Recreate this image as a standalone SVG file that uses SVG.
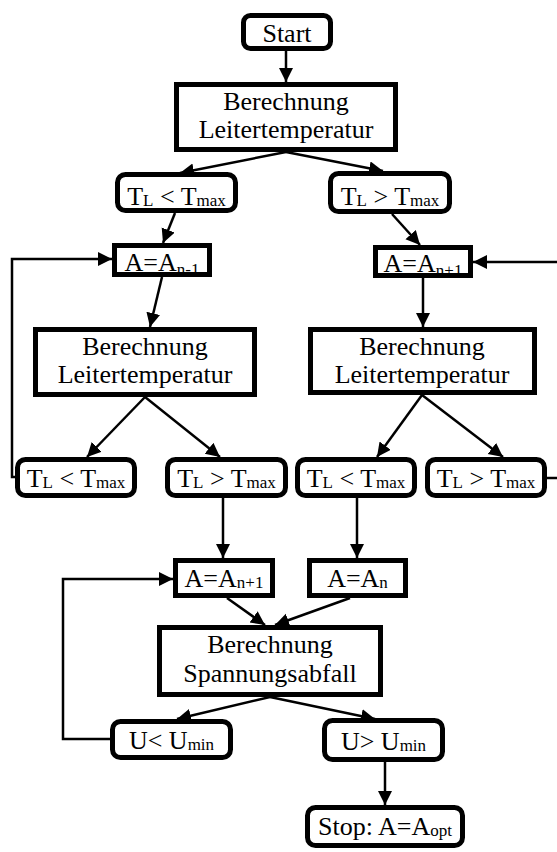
<svg xmlns="http://www.w3.org/2000/svg" width="557" height="852" viewBox="0 0 557 852">
<style>
.box{fill:#fff;stroke:#000;stroke-width:5}
.t{font-family:"Liberation Serif","Times New Roman",serif;font-size:26px;fill:#000;text-anchor:middle}
.s{font-size:17px}
.c{fill:none;stroke:#000;stroke-width:2.5}
</style>
<defs>
<marker id="ah" markerUnits="userSpaceOnUse" markerWidth="15" markerHeight="15" refX="14" refY="7" orient="auto">
<path d="M0,0 L14,7 L0,14 z" fill="#000"/>
</marker>
</defs>
<rect width="557" height="852" fill="#fff"/>
<g id="connectors">
<line class="c" x1="286" y1="51" x2="286" y2="82" marker-end="url(#ah)"/>
<line class="c" x1="286" y1="152" x2="180" y2="173" marker-end="url(#ah)"/>
<line class="c" x1="286" y1="152" x2="383" y2="171" marker-end="url(#ah)"/>
<line class="c" x1="175" y1="213" x2="163" y2="243" marker-end="url(#ah)"/>
<line class="c" x1="392" y1="214" x2="420" y2="245" marker-end="url(#ah)"/>
<polyline class="c" points="15,477 12,477 12,259 112,259" marker-end="url(#ah)"/>
<line class="c" x1="557" y1="262" x2="473" y2="262" marker-end="url(#ah)"/>
<line class="c" x1="547" y1="478" x2="557" y2="478"/>
<line class="c" x1="162" y1="277" x2="150" y2="327" marker-end="url(#ah)"/>
<line class="c" x1="145" y1="397" x2="87" y2="457" marker-end="url(#ah)"/>
<line class="c" x1="145" y1="397" x2="220" y2="457" marker-end="url(#ah)"/>
<line class="c" x1="423" y1="278" x2="423" y2="327" marker-end="url(#ah)"/>
<line class="c" x1="422" y1="395" x2="377" y2="457" marker-end="url(#ah)"/>
<line class="c" x1="422" y1="395" x2="503" y2="457" marker-end="url(#ah)"/>
<line class="c" x1="223" y1="498" x2="223" y2="558" marker-end="url(#ah)"/>
<line class="c" x1="357" y1="498" x2="357" y2="558" marker-end="url(#ah)"/>
<polyline class="c" points="110,739 63,739 63,579 173,579" marker-end="url(#ah)"/>
<line class="c" x1="227" y1="598" x2="265" y2="625" marker-end="url(#ah)"/>
<line class="c" x1="350" y1="598" x2="275" y2="625" marker-end="url(#ah)"/>
<line class="c" x1="270" y1="697" x2="177" y2="719" marker-end="url(#ah)"/>
<line class="c" x1="270" y1="697" x2="375" y2="719" marker-end="url(#ah)"/>
<line class="c" x1="385" y1="761" x2="385" y2="805" marker-end="url(#ah)"/>
</g>
<g id="start"><rect class="box" x="243.5" y="15.5" width="87" height="33" rx="7"/><text class="t" x="287" y="42">Start</text></g>
<g id="calc1"><rect class="box" x="176.5" y="84.5" width="219" height="65"/><text class="t" x="286" y="110">Berechnung</text><text class="t" x="286" y="138">Leitertemperatur</text></g>
<g id="lt1"><rect class="box" x="117.5" y="174.5" width="118" height="36" rx="8"/><text class="t" x="176.5" y="205">T<tspan class="s" dy="1">L</tspan><tspan dy="-1"> &lt; T</tspan><tspan class="s" dy="1">max</tspan></text></g>
<g id="gt1"><rect class="box" x="330.5" y="173.5" width="119" height="38" rx="8"/><text class="t" x="390" y="205">T<tspan class="s" dy="1">L</tspan><tspan dy="-1"> &gt; T</tspan><tspan class="s" dy="1">max</tspan></text></g>
<g id="anm1"><rect class="box" x="114.5" y="245.5" width="95" height="29"/><text class="t" x="162" y="271">A=A<tspan class="s" dy="4">n-1</tspan></text></g>
<g id="anp1"><rect class="box" x="375.5" y="247.5" width="95" height="28"/><text class="t" x="423" y="272">A=A<tspan class="s" dy="4">n+1</tspan></text></g>
<g id="calc2"><rect class="box" x="35.5" y="329.5" width="219" height="65"/><text class="t" x="145" y="355">Berechnung</text><text class="t" x="145" y="383">Leitertemperatur</text></g>
<g id="calc3"><rect class="box" x="310.5" y="329.5" width="224" height="63"/><text class="t" x="422" y="355">Berechnung</text><text class="t" x="422" y="383">Leitertemperatur</text></g>
<g id="lt2"><rect class="box" x="17.5" y="459.5" width="117" height="36" rx="8"/><text class="t" x="76" y="487">T<tspan class="s" dy="1">L</tspan><tspan dy="-1"> &lt; T</tspan><tspan class="s" dy="1">max</tspan></text></g>
<g id="gt2"><rect class="box" x="167.5" y="459.5" width="118" height="36" rx="8"/><text class="t" x="226.5" y="487">T<tspan class="s" dy="1">L</tspan><tspan dy="-1"> &gt; T</tspan><tspan class="s" dy="1">max</tspan></text></g>
<g id="lt3"><rect class="box" x="297.5" y="459.5" width="117" height="36" rx="8"/><text class="t" x="356" y="487">T<tspan class="s" dy="1">L</tspan><tspan dy="-1"> &lt; T</tspan><tspan class="s" dy="1">max</tspan></text></g>
<g id="gt3"><rect class="box" x="427.5" y="459.5" width="117" height="36" rx="8"/><text class="t" x="486" y="487">T<tspan class="s" dy="1">L</tspan><tspan dy="-1"> &gt; T</tspan><tspan class="s" dy="1">max</tspan></text></g>
<g id="anp2"><rect class="box" x="175.5" y="560.5" width="97" height="35"/><text class="t" x="224" y="587">A=A<tspan class="s" dy="1">n+1</tspan></text></g>
<g id="an"><rect class="box" x="309.5" y="560.5" width="96" height="35"/><text class="t" x="357.5" y="587">A=A<tspan class="s" dy="1">n</tspan></text></g>
<g id="calc4"><rect class="box" x="159.5" y="627.5" width="221" height="67"/><text class="t" x="270" y="653">Berechnung</text><text class="t" x="270" y="682">Spannungsabfall</text></g>
<g id="ult"><rect class="box" x="112.5" y="721.5" width="118" height="36" rx="8"/><text class="t" x="171.5" y="749">U&lt; U<tspan class="s" dy="1">min</tspan></text></g>
<g id="ugt"><rect class="box" x="324.5" y="720.5" width="118" height="39" rx="8"/><text class="t" x="383.5" y="750">U&gt; U<tspan class="s" dy="1">min</tspan></text></g>
<g id="stop"><rect class="box" x="307.5" y="807.5" width="155" height="38" rx="8"/><text class="t" x="385" y="835">Stop: A=A<tspan class="s" dy="1">opt</tspan></text></g>
</svg>
